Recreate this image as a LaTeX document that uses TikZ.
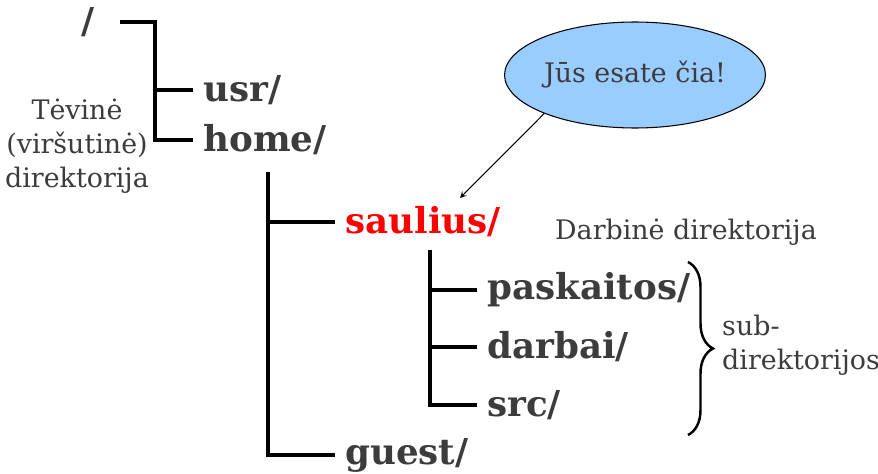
\documentclass[tikz,border=0pt]{standalone}
\usepackage{fontspec}
\setmainfont{DejaVu Serif}
\usetikzlibrary{positioning,shapes.geometric,arrows,decorations.pathreplacing}
\definecolor{textgray}{HTML}{3C3C3C}
\definecolor{bubblefill}{HTML}{99CCFF}
\tikzstyle{tree} = [line width=2.2pt, black]
\tikzstyle{dir} = [anchor=west, inner xsep=0.2cm, inner ysep=0pt, text=textgray,
    font=\fontsize{20.3}{24}\selectfont\bfseries]
\tikzstyle{note} = [text=textgray, align=center,
    font=\fontsize{15.3}{19.5}\selectfont]
\tikzstyle{arrow} = [line width=0.6pt,->,>=stealth]
\tikzstyle{bracket} = [line width=1.4pt, decorate, decoration={brace, amplitude=0.5cm}]

\begin{document}
\begin{tikzpicture}[x=0.02cm, y=-0.02cm]
     \useasboundingbox (0,0) rectangle (878,473);

     \node [dir, anchor=east, inner xsep=0.5cm] (root) at (120,22) {/};
     \node [dir] (usr) at (193,90) {usr/};
     \node [dir] (home) at (193,140) {home/};
     \coordinate (rootbus) at (155,22);
     \draw [tree] (root.east) -- (rootbus) |- (home.west);
     \draw [tree] (rootbus |- usr.west) -- (usr.west);

     \node [dir, text=red] (saulius) at (335,222) {saulius/};
     \node [dir] (guest) at (335,455) {guest/};
     \coordinate (homebus) at (268,172);
     \draw [tree] (homebus) |- (guest.west);
     \draw [tree] (homebus |- saulius.west) -- (saulius.west);

     \node [dir] (paskaitos) at (477,290) {paskaitos/};
     \node [dir] (darbai) at (477,347) {darbai/};
     \node [dir] (src) at (477,405) {src/};
     \coordinate (saubus) at (430,250);
     \draw [tree] (saubus) |- (src.west);
     \draw [tree] (saubus |- paskaitos.west) -- (paskaitos.west);
     \draw [tree] (saubus |- darbai.west) -- (darbai.west);

     \node [note] (parent) at (77,146) {Tėvinė\\(viršutinė)\\direktorija};
     \node [note] (workdir) at (686,232) {Darbinė direktorija};

     \coordinate (bracetop) at (688,262);
     \coordinate (bracebot) at (688,435);
     \draw [bracket] (bracetop) -- (bracebot);
     \node [note, align=left, anchor=west] (subdirs) at (716,345) {sub-\\direktorijos};

     \node [note, ellipse, draw, line width=0.6pt, fill=bubblefill, inner sep=0pt,
         minimum width=5.22cm, minimum height=2.12cm] (bubble) at (635,75) {Jūs esate čia!};
     \coordinate (here) at (460,198);
     \draw [arrow] (bubble.203) -- (here);
\end{tikzpicture}
\end{document}
